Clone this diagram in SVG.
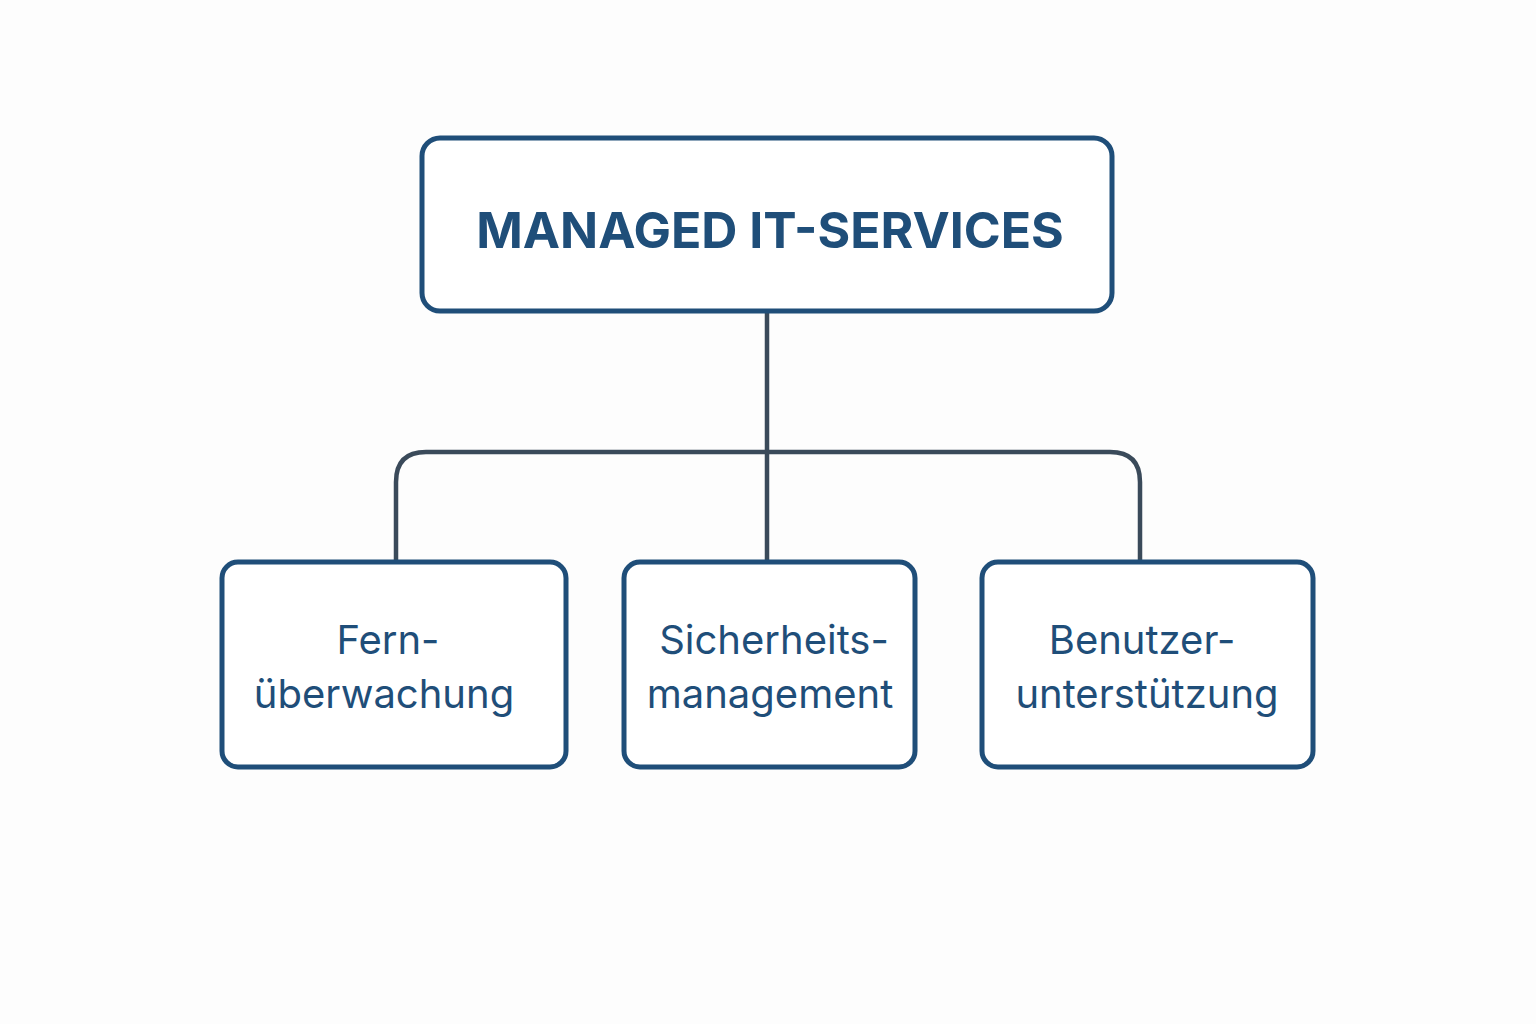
<svg xmlns="http://www.w3.org/2000/svg" width="1536" height="1024" viewBox="0 0 1536 1024">
<style>
.box{fill:#ffffff;stroke:#1f4e79;stroke-width:5}
.conn{fill:none;stroke:#3a4a5a;stroke-width:4.5}
.title{font-family:Inter,"Noto Sans","Liberation Sans",sans-serif;font-weight:700;font-size:50px;fill:#1f4e79;text-anchor:middle}
.lbl{font-family:Inter,"Noto Sans","Liberation Sans",sans-serif;font-size:40px;fill:#1f4e79;text-anchor:middle}
</style>
<rect width="1536" height="1024" fill="#fdfdfd"/>
<g id="connectors">
<line class="conn" x1="767" y1="311" x2="767" y2="562"/>
<path class="conn" d="M396 562 V482 Q396 452 426 452 H1110 Q1140 452 1140 482 V562"/>
</g>
<g id="root">
<rect class="box" x="422" y="138" width="690" height="173" rx="18"/>
<text class="title" x="770" y="248">MANAGED IT-SERVICES</text>
</g>
<g id="fern">
<rect class="box" x="222" y="562" width="344" height="205" rx="16"/>
<text class="lbl" x="388" y="654">Fern-</text>
<text class="lbl" x="384" y="708">überwachung</text>
</g>
<g id="sicherheit">
<rect class="box" x="624" y="562" width="291" height="205" rx="16"/>
<text class="lbl" x="774" y="654">Sicherheits-</text>
<text class="lbl" x="770" y="708">management</text>
</g>
<g id="benutzer">
<rect class="box" x="982" y="562" width="331" height="205" rx="16"/>
<text class="lbl" x="1142" y="654">Benutzer-</text>
<text class="lbl" x="1147" y="708">unterstützung</text>
</g>
</svg>
